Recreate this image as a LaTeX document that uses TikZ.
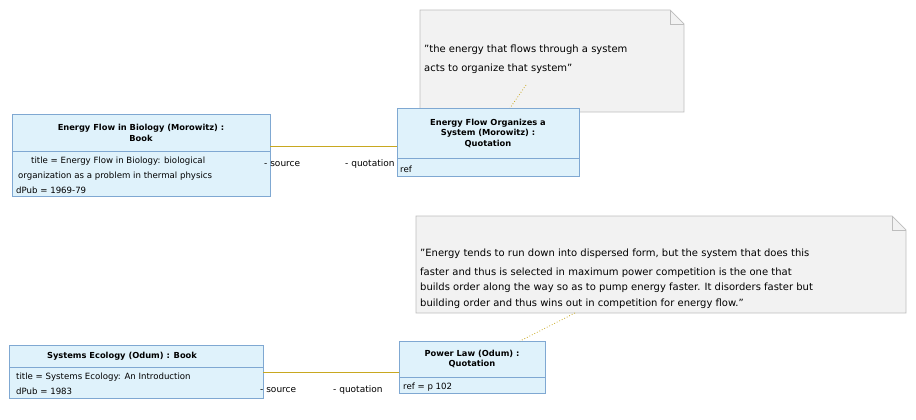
\documentclass[tikz,border=0pt]{standalone}
\usepackage{fontspec}
\setmainfont{DejaVu Sans}
\begin{document}
\begin{tikzpicture}[x=1pt,y=-1pt,
 box/.style={draw=boxb,fill=boxf,line width=0.8pt},
 note/.style={draw=noteb,fill=notef,line width=0.7pt},
 hd/.style={font=\fontsize{8.3}{10.5}\selectfont\bfseries,align=center},
 attr/.style={font=\fontsize{8.6}{10}\selectfont,anchor=base west,inner sep=0pt},
 nt/.style={font=\fontsize{10}{12}\selectfont,anchor=base west,inner sep=0pt},
 lk/.style={draw=linkc,line width=0.8pt},
 an/.style={draw=linkc,dotted,line width=0.8pt},
 lb/.style={font=\fontsize{9}{10}\selectfont,anchor=base west,inner sep=0pt}]
\definecolor{boxb}{HTML}{7FA8D2}
\definecolor{boxf}{HTML}{DFF2FB}
\definecolor{noteb}{HTML}{BDBDBD}
\definecolor{notef}{HTML}{F2F2F2}
\definecolor{linkc}{HTML}{C8A820}
\useasboundingbox (0,0) rectangle (916,420);
% note 1
\path[note] (420,10) -- (670,10) -- (684,24) -- (684,112) -- (420,112) -- cycle;
\draw[noteb,line width=0.7pt] (670,10) -- (670,24) -- (684,24);
\begin{scope}\clip (420,10) rectangle (668,112);
\node[nt] (n1a) at (424,53) {"the energy that flows through a system};
\node[nt] (n1b) at (424,71) {acts to organize that system"};
\end{scope}
% note 2
\path[note] (416,216) -- (892,216) -- (906,230) -- (906,313) -- (416,313) -- cycle;
\draw[noteb,line width=0.7pt] (892,216) -- (892,230) -- (906,230);
\begin{scope}\clip (416,216) rectangle (886,313);
\node[nt] (n2a) at (420,256) {"Energy tends to run down into dispersed form, but the system that does this};
\node[nt] (n2b) at (420,275) {faster and thus is selected in maximum power competition is the one that};
\node[nt] (n2c) at (420,290) {builds order along the way so as to pump energy faster. It disorders faster but};
\node[nt] (n2d) at (420,306) {building order and thus wins out in competition for energy flow."};
\end{scope}
% box EFOS
\path[box] (397,108) rectangle (579,176);
\draw[boxb,line width=0.8pt] (397,158) -- (579,158);
\node[hd] (q1) at (488,133) {Energy Flow Organizes a\\System (Morowitz) :\\Quotation};
\node[attr] (q1a) at (400,172) {ref};
% box EFB
\path[box] (12,114) rectangle (270,196);
\draw[boxb,line width=0.8pt] (12,151) -- (270,151);
\node[hd] (b1) at (141,133) {Energy Flow in Biology (Morowitz) :\\Book};
\begin{scope}\clip (12,151) rectangle (270,196);
\node[attr] (b1a) at (31,163) {title = Energy Flow in Biology: biological};
\node[attr] (b1b) at (18,178) {organization as a problem in thermal physics};
\node[attr] (b1c) at (16,193) {dPub = 1969-79};
\end{scope}
% box PL
\path[box] (399,341) rectangle (545,393);
\draw[boxb,line width=0.8pt] (399,377) -- (545,377);
\node[hd] (q2) at (472,359) {Power Law (Odum) :\\Quotation};
\node[attr] (q2a) at (403,389) {ref = p 102};
% box SE
\path[box] (9,345) rectangle (263,398);
\draw[boxb,line width=0.8pt] (9,367) -- (263,367);
\node[hd] (b2) at (122,356) {Systems Ecology (Odum) : Book};
\begin{scope}\clip (9,367) rectangle (234,398);
\node[attr] (b2a) at (16,379) {title = Systems Ecology: An Introduction};
\node[attr] (b2b) at (16,394) {dPub = 1983};
\end{scope}
% links
\coordinate (l1a) at (270,146); \coordinate (l1b) at (397,146);
\draw[lk] (l1a) -- (l1b);
\coordinate (l2a) at (263,372); \coordinate (l2b) at (399,372);
\draw[lk] (l2a) -- (l2b);
\node[lb] (s1) at (264,166) {- source};
\node[lb] (t1) at (345,166) {- quotation};
\node[lb] (s2) at (260,392) {- source};
\node[lb] (t2) at (333,392) {- quotation};
\coordinate (d1a) at (526,85); \coordinate (d1b) at (510,108);
\draw[an] (d1a) -- (d1b);
\coordinate (d2a) at (575,313); \coordinate (d2b) at (520,341);
\draw[an] (d2a) -- (d2b);
\end{tikzpicture}
\end{document}
